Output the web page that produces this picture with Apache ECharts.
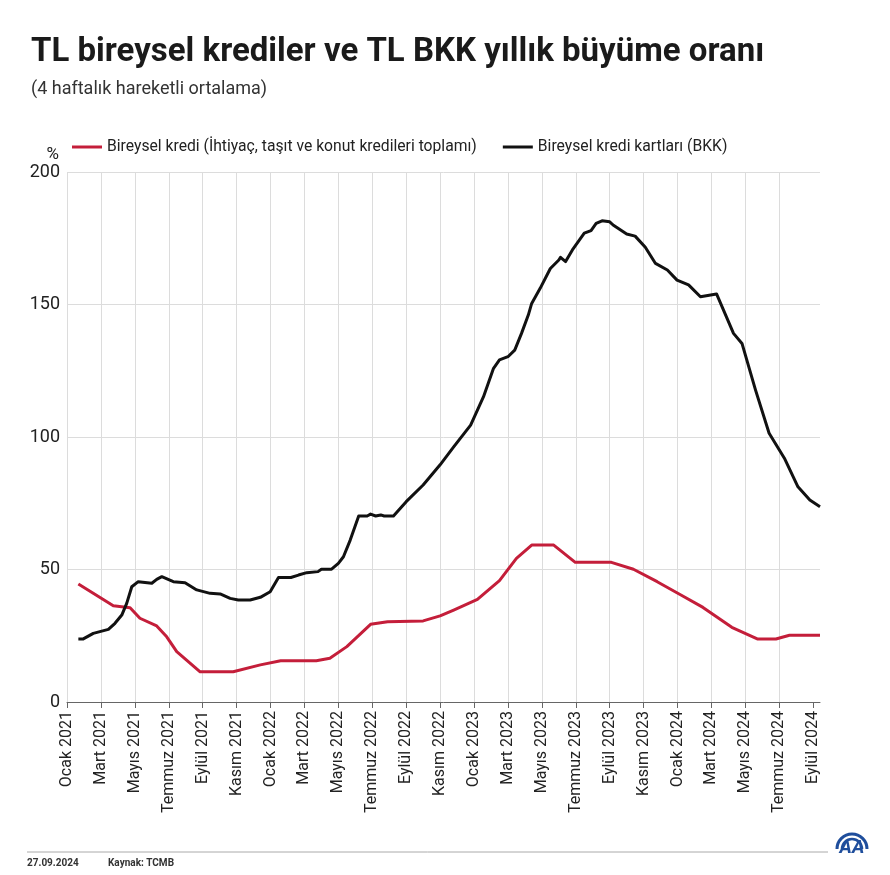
<!DOCTYPE html>
<html>
<head>
<meta charset="utf-8">
<script src="https://cdn.jsdelivr.net/npm/echarts@6/dist/echarts.min.js"></script>
<style>
html,body{margin:0;padding:0;background:#fff;}
#chart{width:890px;height:875px;}
</style>
</head>
<body>
<div id="chart"></div>
<script>
// Tick labels (every 2 months, starting Ocak 2021 = month 0)
const tickLabels = ['Ocak 2021','Mart 2021','Mayıs 2021','Temmuz 2021','Eylül 2021','Kasım 2021',
  'Ocak 2022','Mart 2022','Mayıs 2022','Temmuz 2022','Eylül 2022','Kasım 2022',
  'Ocak 2023','Mart 2023','Mayıs 2023','Temmuz 2023','Eylül 2023','Kasım 2023',
  'Ocak 2024','Mart 2024','Mayıs 2024','Temmuz 2024','Eylül 2024'];

const seriesNames = ['Bireysel kredi (İhtiyaç, taşıt ve konut kredileri toplamı)', 'Bireysel kredi kartları (BKK)'];

// Bireysel kredi: time (months since Jan 2021) and value (%)
const krediMonths = [0.67,2.73,3.72,4.3,5.29,5.88,6.47,7.85,9.8,11.4,12.6,14.7,15.5,16.5,17.9,18.9,21.0,22.0,22.8,24.2,25.5,26.5,27.4,28.7,29.97,32.1,33.4,34.8,36.2,37.5,39.2,40.7,41.8,42.6,44.4];
const krediValues = [44.5,36.3,35.6,31.6,28.7,24.6,19.0,11.4,11.4,14.0,15.6,15.6,16.5,20.9,29.3,30.3,30.6,32.5,34.7,38.7,45.8,54.2,59.2,59.2,52.7,52.7,50.1,45.4,40.4,35.7,28.2,23.8,23.8,25.2,25.2];

// Bireysel kredi kartları (BKK)
const bkkMonths = [0.67,0.96,1.55,2.44,2.83,3.23,3.52,3.82,4.2,5.0,5.29,5.59,6.27,6.96,7.65,8.44,9.03,9.62,10.1,10.8,11.4,11.98,12.47,13.2,13.65,14.14,14.8,15.0,15.6,16.0,16.3,16.7,17.2,17.7,17.9,18.2,18.5,18.7,19.25,20.0,21.0,22.0,22.8,23.8,24.56,25.15,25.5,26.0,26.4,26.8,27.2,27.4,27.9,28.5,29.0,29.1,29.4,29.8,30.5,30.9,31.2,31.55,32.0,32.2,33.0,33.5,34.1,34.7,35.4,35.97,36.65,37.35,38.3,39.3,39.8,40.6,41.4,42.3,43.1,43.8,44.4];
const bkkValues = [23.8,23.8,25.9,27.4,29.7,32.8,37.2,43.5,45.4,44.8,46.3,47.3,45.4,45.0,42.3,41.0,40.8,39.1,38.5,38.5,39.5,41.6,47.0,47.0,47.9,48.8,49.2,50.1,50.1,52.3,54.8,61.1,70.2,70.2,70.9,70.2,70.6,70.2,70.2,75.6,81.9,89.5,96.3,104.5,115.2,125.9,129.1,130.3,132.8,139.1,146.0,150.4,156.1,163.6,166.8,167.8,166.2,170.6,176.9,177.9,180.6,181.6,181.2,180.0,176.6,175.8,171.6,165.5,163.0,159.2,157.4,152.9,154.0,139.1,135.3,117.7,101.4,92.0,81.2,76.2,73.7];

const zip = (xs, ys) => xs.map((x, i) => [x, ys[i]]);
const tickValues = tickLabels.map((_, i) => i * 2);
const FONT = 'Roboto';
const AA_BLUE = '#1f4e9c';

const chart = echarts.init(document.getElementById('chart'), null, {renderer: 'canvas'});
chart.setOption({
  backgroundColor: '#fff',
  animation: false,
  textStyle: {fontFamily: FONT},
  title: {
    text: 'TL bireysel krediler ve TL BKK yıllık büyüme oranı',
    subtext: '(4 haftalık hareketli ortalama)',
    left: 26, top: 31, itemGap: 11,
    textStyle: {fontFamily: FONT, fontSize: 33, fontWeight: 'bold', color: '#1a1a1a'},
    subtextStyle: {fontFamily: FONT, fontSize: 18, color: '#333'}
  },
  legend: {
    left: 67, top: 134,
    itemWidth: 30, itemHeight: 3, itemGap: 26,
    icon: 'rect',
    textStyle: {fontFamily: FONT, fontSize: 15.7, color: '#222'},
    data: seriesNames
  },
  grid: {left: 67, right: 70, top: 172, bottom: 173, containLabel: false},
  xAxis: {
    type: 'value', min: 0, max: 44.4, interval: 2,
    axisLine: {show: true, lineStyle: {color: '#666', width: 1}},
    axisTick: {show: true, length: 6, lineStyle: {color: '#666'}, customValues: tickValues},
    axisLabel: {
      customValues: tickValues,
      rotate: 90, margin: 9, fontSize: 16, color: '#222', fontFamily: FONT,
      formatter: v => tickLabels[Math.round(v / 2)] || ''
    },
    splitLine: {show: true, showMaxLine: false, lineStyle: {color: '#dcdcdc', width: 1}}
  },
  yAxis: {
    type: 'value', min: 0, max: 200, interval: 50,
    name: '%', nameLocation: 'end', nameGap: 8,
    nameTextStyle: {fontFamily: FONT, fontSize: 17, color: '#222', align: 'right', padding: [0, 8, 0, 0]},
    axisLine: {show: false}, axisTick: {show: false},
    axisLabel: {fontSize: 18, color: '#222', margin: 7, fontFamily: FONT},
    splitLine: {show: true, lineStyle: {color: '#dcdcdc', width: 1}}
  },
  series: [
    {
      name: seriesNames[0], type: 'line', data: zip(krediMonths, krediValues),
      showSymbol: false, symbol: 'none', color: '#c41e3a',
      lineStyle: {width: 3, color: '#c41e3a', join: 'round'}, z: 3
    },
    {
      name: seriesNames[1], type: 'line', data: zip(bkkMonths, bkkValues),
      showSymbol: false, symbol: 'none', color: '#111',
      lineStyle: {width: 3, color: '#111', join: 'round'}, z: 4
    }
  ],
  graphic: [
    {type: 'line', shape: {x1: 27, y1: 852, x2: 828, y2: 852}, style: {stroke: '#aaa', lineWidth: 1}},
    {type: 'text', left: 27, top: 858, style: {text: '27.09.2024', font: 'bold 10px ' + FONT, fill: '#333'}},
    {type: 'text', left: 108, top: 858, style: {text: 'Kaynak: TCMB', font: 'bold 10px ' + FONT, fill: '#333'}},
    {type: 'arc', shape: {cx: 852, cy: 849, r: 15, startAngle: Math.PI, endAngle: 2 * Math.PI}, style: {stroke: AA_BLUE, lineWidth: 3, fill: null}},
    {type: 'arc', shape: {cx: 852, cy: 849, r: 10, startAngle: Math.PI, endAngle: 2 * Math.PI}, style: {stroke: AA_BLUE, lineWidth: 2.5, fill: null}},
    {type: 'text', x: 852, y: 848, style: {text: 'AA', font: 'italic bold 19px ' + FONT, fill: AA_BLUE, align: 'center', verticalAlign: 'middle'}}
  ]
});
</script>
</body>
</html>
